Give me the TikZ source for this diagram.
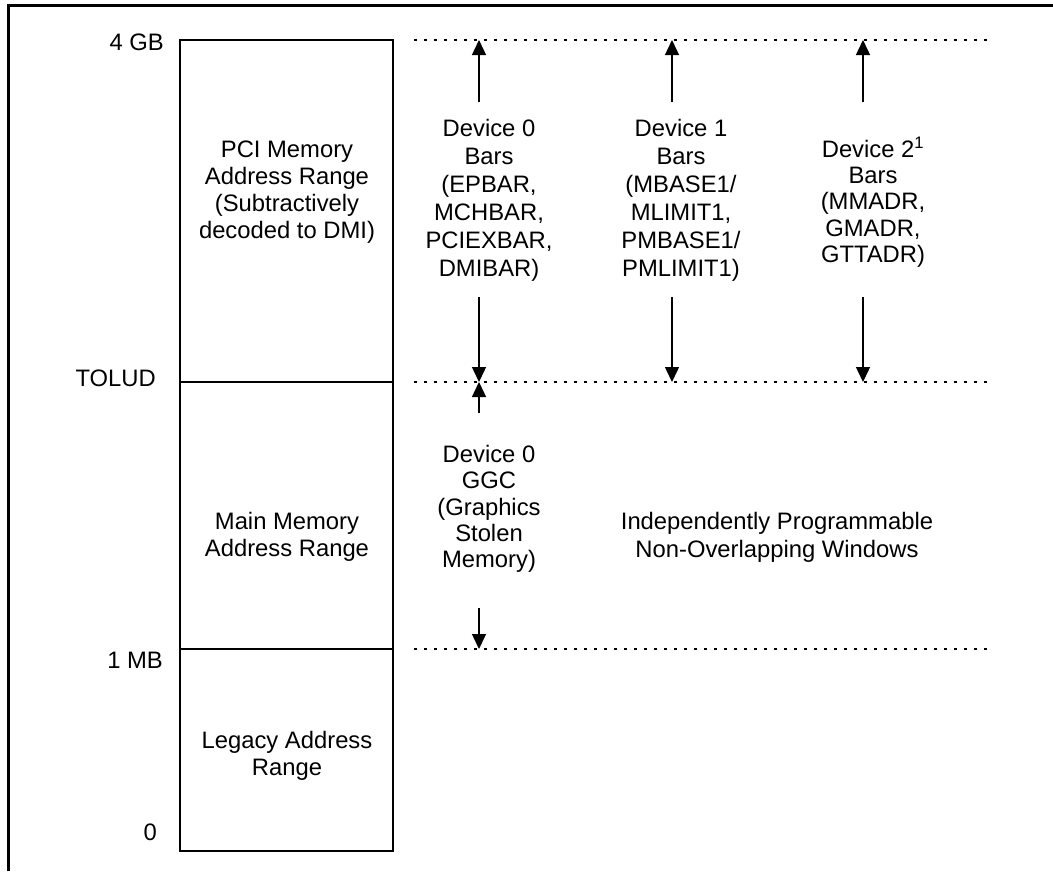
\documentclass[tikz,border=0pt]{standalone}
\usepackage{fontspec}
\setmainfont{Liberation Sans}
\usetikzlibrary{arrows.meta}

\begin{document}
\begin{tikzpicture}[x=1pt,y=-1pt,>={Triangle[width=14pt,length=15pt]},
  txt/.style={font=\fontsize{23.8}{28}\selectfont,align=center,inner sep=0pt},
  tighttxt/.style={font=\fontsize{23.8}{26.3}\selectfont,align=center,inner sep=0pt},
  boxtxt/.style={font=\fontsize{23.8}{27}\selectfont,align=center,inner sep=0pt},
  addr/.style={font=\fontsize{23.8}{28}\selectfont,anchor=east,inner sep=0pt},
  memrange/.style={draw,line width=1.5pt},
  level/.style={line width=2pt,dash pattern=on 2.5pt off 7.5pt},
  bar/.style={->,line width=1.4pt}]
  \useasboundingbox (0,0) rectangle (1053,871);
  \draw[line width=2.7pt] (8.7,871) -- (8.7,5.3) -- (1053,5.3);

  % memory map
  \draw[memrange] (180,40) rectangle (393,382);
  \draw[memrange] (180,382) rectangle (393,649);
  \draw[memrange] (180,649) rectangle (393,851);
  \node[boxtxt] (pci) at (287,192) {PCI Memory\\Address Range\\(Subtractively\\decoded to DMI)};
  \node[boxtxt] (main) at (287,537) {Main Memory\\Address Range};
  \node[boxtxt] (legacy) at (287,756) {Legacy Address\\Range};

  \node[addr] (gb4) at (164,42.5) {4 GB};
  \node[addr] (tolud) at (156,378.5) {TOLUD};
  \node[addr] (mb1) at (163,660) {1 MB};
  \node[addr] (zero) at (157,832) {0};

  % levels
  \coordinate (topL) at (414,40);   \coordinate (topR) at (994,40);
  \coordinate (midL) at (414,382);  \coordinate (midR) at (994,382);
  \coordinate (lowL) at (414,649);  \coordinate (lowR) at (994,649);
  \draw[level] (topL) -- (topR);
  \draw[level] (midL) -- (midR);
  \draw[level] (lowL) -- (lowR);

  % bars
  \node[txt] (dev0) at (489,200) {Device 0\\Bars\\(EPBAR,\\MCHBAR,\\PCIEXBAR,\\DMIBAR)};
  \node[txt] (dev1) at (681,200) {Device 1\\Bars\\(MBASE1/\\MLIMIT1,\\PMBASE1/\\PMLIMIT1)};
  \node[tighttxt] (dev2) at (873,202) {Device 2\textsuperscript{1}\\Bars\\(MMADR,\\GMADR,\\GTTADR)};
  \node[tighttxt] (ggc) at (489,509) {Device 0\\GGC\\(Graphics\\Stolen\\Memory)};
  \node[txt] (windows) at (777,537) {Independently Programmable\\Non-Overlapping Windows};

  \coordinate (a0u) at (479,102);  \coordinate (a0t) at (479,40);
  \coordinate (a0d) at (479,297);  \coordinate (a0m) at (479,382);
  \coordinate (g0u) at (479,413);  \coordinate (g0t) at (479,382);
  \coordinate (g0d) at (479,608);  \coordinate (g0b) at (479,649);
  \coordinate (a1u) at (672,102);  \coordinate (a1t) at (672,40);
  \coordinate (a1d) at (672,297);  \coordinate (a1m) at (672,382);
  \coordinate (a2u) at (863,102);  \coordinate (a2t) at (863,40);
  \coordinate (a2d) at (863,297);  \coordinate (a2m) at (863,382);

  \draw[bar] (a0u) -- (a0t);
  \draw[bar] (a0d) -- (a0m);
  \draw[bar] (g0u) -- (g0t);
  \draw[bar] (g0d) -- (g0b);
  \draw[bar] (a1u) -- (a1t);
  \draw[bar] (a1d) -- (a1m);
  \draw[bar] (a2u) -- (a2t);
  \draw[bar] (a2d) -- (a2m);
\end{tikzpicture}
\end{document}
